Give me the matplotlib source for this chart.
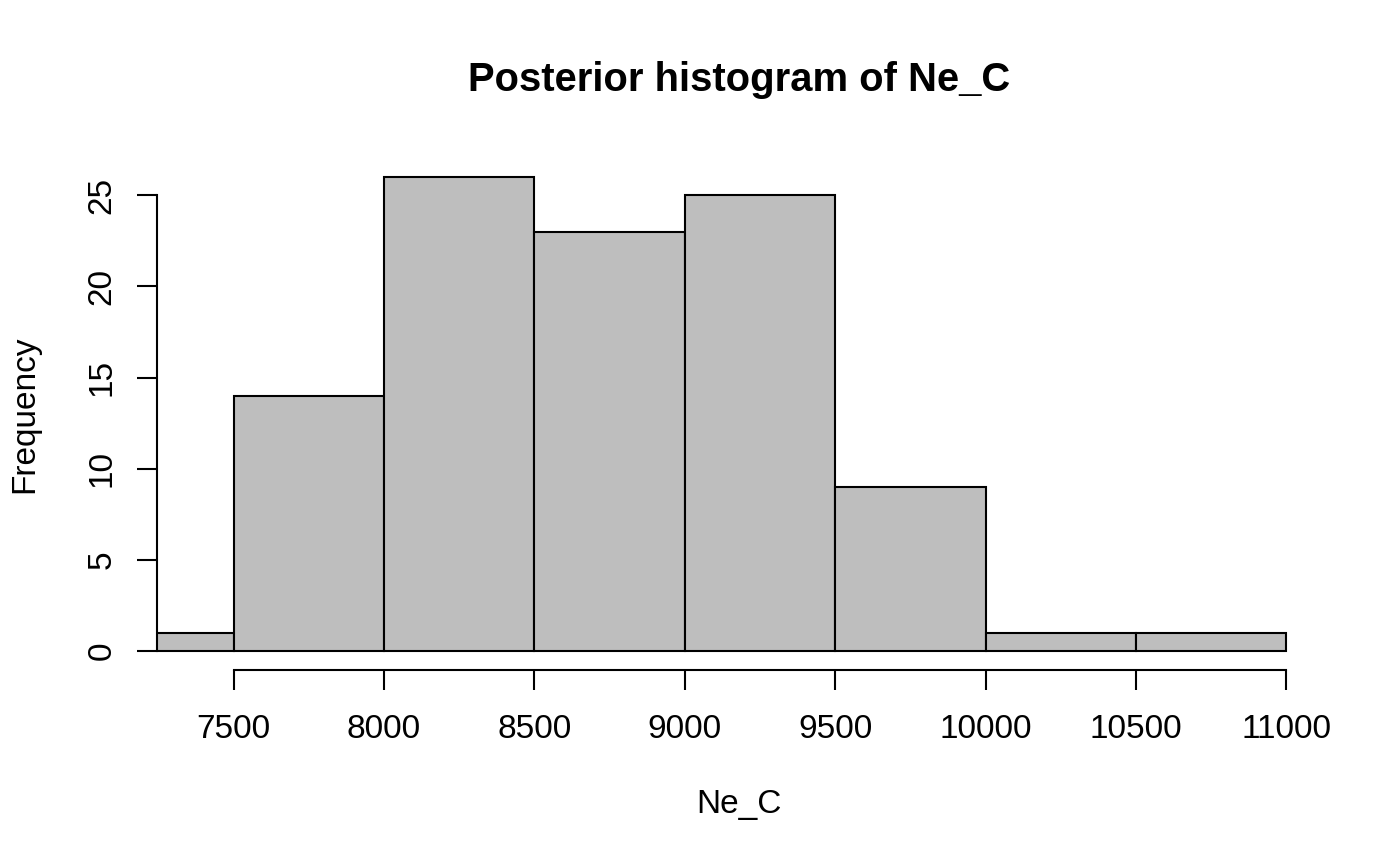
import numpy as np
import matplotlib
matplotlib.use('Agg')
import matplotlib.pyplot as plt

plt.rcParams['font.family'] = ['Liberation Sans', 'DejaVu Sans']
plt.rcParams['font.size'] = 12

# histogram data (bin edges and counts)
edges = [7000, 7500, 8000, 8500, 9000, 9500, 10000, 10500, 11000]
counts = [1, 14, 26, 23, 25, 9, 1, 1]
xticks = [7500, 8000, 8500, 9000, 9500, 10000, 10500, 11000]
yticks = [0, 5, 10, 15, 20, 25]

W, H = 1400, 866
fig = plt.figure(figsize=(7, 4.33), dpi=200)
ax = fig.add_axes([157 / W, 1 - 670 / H, (1321 - 157) / W, (670 - 158) / H])

ax.bar(edges[:-1], counts, width=np.diff(edges), align='edge',
       color='#bebebe', edgecolor='black', linewidth=0.75)

ax.set_xlim(7245.7, 11114.7)
ax.set_ylim(-1.04, 27.04)

for s in ['top', 'right']:
    ax.spines[s].set_visible(False)
ax.spines['bottom'].set_bounds(xticks[0], xticks[-1])
ax.spines['left'].set_bounds(yticks[0], yticks[-1])
ax.spines['bottom'].set_linewidth(0.75)
ax.spines['left'].set_linewidth(0.75)

ax.set_xticks(xticks)
ax.set_yticks(yticks)
ax.tick_params(length=7.2, width=0.75, labelsize=12)
ax.tick_params(axis='x', pad=8.5)
ax.tick_params(axis='y', pad=7)
plt.setp(ax.get_yticklabels(), rotation=90, va='center')

fig.text(739 / W, 1 - 80 / H, 'Posterior histogram of Ne_C', ha='center', va='center',
         fontsize=14.4, fontweight='bold')
fig.text(739 / W, 1 - 805 / H, 'Ne_C', ha='center', va='center', fontsize=12)
fig.text(25 / W, 1 - 414 / H, 'Frequency', ha='center', va='center', rotation=90, fontsize=12)

plt.savefig('out.png', dpi=200)
